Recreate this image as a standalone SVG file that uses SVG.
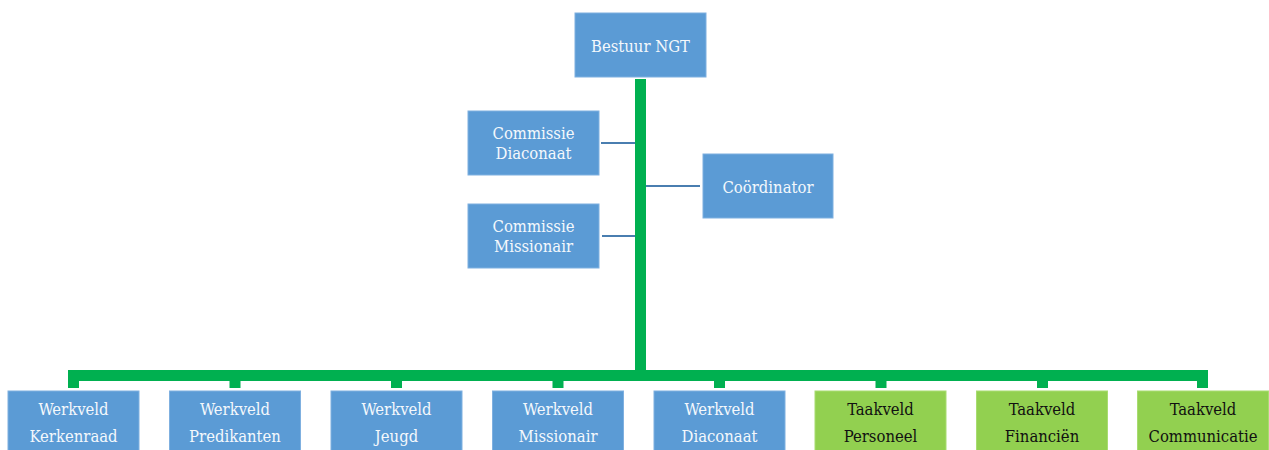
<svg xmlns="http://www.w3.org/2000/svg" width="1269" height="450" viewBox="0 0 1269 450">
<style>
.b{fill:#5b9bd5;stroke:#7fb0e0;stroke-width:1}
.g{fill:#92d050;stroke:#a8dc70;stroke-width:1}
text{font-family:"DejaVu Serif Condensed","DejaVu Serif","Liberation Serif",serif;font-stretch:condensed;font-size:16.5px;text-anchor:middle}
.tw{fill:#f4f8fc}
.tk{fill:#111}
.gl{fill:#00b050}
.bl{stroke:#4a7eb0;stroke-width:2;fill:none}
</style>
<rect width="1269" height="450" fill="#fff"/>
<g id="connectors">
<rect class="gl" x="635" y="79" width="11" height="302"/>
<rect class="gl" x="68" y="370" width="1139" height="11"/>
<rect class="gl" x="68" y="370" width="11" height="18"/>
<rect class="gl" x="229.5" y="370" width="11" height="18"/>
<rect class="gl" x="391" y="370" width="11" height="18"/>
<rect class="gl" x="552.5" y="370" width="11" height="18"/>
<rect class="gl" x="714" y="370" width="11" height="18"/>
<rect class="gl" x="875.5" y="370" width="11" height="18"/>
<rect class="gl" x="1037" y="370" width="11" height="18"/>
<rect class="gl" x="1197" y="370" width="11" height="18"/>
<line class="bl" x1="601" y1="143" x2="635" y2="143"/>
<line class="bl" x1="602" y1="236" x2="635" y2="236"/>
<line class="bl" x1="646" y1="186" x2="700" y2="186"/>
</g>
<g id="bestuur"><rect class="b" x="575" y="13" width="131" height="64"/><text class="tw" x="640.5" y="52">Bestuur NGT</text></g>
<g id="commissie-diaconaat"><rect class="b" x="468" y="111" width="131" height="64"/><text class="tw" x="533.5" y="139">Commissie</text><text class="tw" x="533.5" y="159">Diaconaat</text></g>
<g id="coordinator"><rect class="b" x="703" y="154" width="130" height="64"/><text class="tw" x="768" y="193">Coördinator</text></g>
<g id="commissie-missionair"><rect class="b" x="468" y="204" width="131" height="64"/><text class="tw" x="533.5" y="232">Commissie</text><text class="tw" x="533.5" y="252">Missionair</text></g>
<g id="werkveld-kerkenraad"><rect class="b" x="8" y="391" width="131" height="64"/><text class="tw" x="73.5" y="415">Werkveld</text><text class="tw" x="73.5" y="442">Kerkenraad</text></g>
<g id="werkveld-predikanten"><rect class="b" x="169.5" y="391" width="131" height="64"/><text class="tw" x="235" y="415">Werkveld</text><text class="tw" x="235" y="442">Predikanten</text></g>
<g id="werkveld-jeugd"><rect class="b" x="331" y="391" width="131" height="64"/><text class="tw" x="396.5" y="415">Werkveld</text><text class="tw" x="396.5" y="442">Jeugd</text></g>
<g id="werkveld-missionair"><rect class="b" x="492.5" y="391" width="131" height="64"/><text class="tw" x="558" y="415">Werkveld</text><text class="tw" x="558" y="442">Missionair</text></g>
<g id="werkveld-diaconaat"><rect class="b" x="654" y="391" width="131" height="64"/><text class="tw" x="719.5" y="415">Werkveld</text><text class="tw" x="719.5" y="442">Diaconaat</text></g>
<g id="taakveld-personeel"><rect class="g" x="815" y="391" width="131" height="64"/><text class="tk" x="880.5" y="415">Taakveld</text><text class="tk" x="880.5" y="442">Personeel</text></g>
<g id="taakveld-financien"><rect class="g" x="976.5" y="391" width="131" height="64"/><text class="tk" x="1042" y="415">Taakveld</text><text class="tk" x="1042" y="442">Financiën</text></g>
<g id="taakveld-communicatie"><rect class="g" x="1137.5" y="391" width="131" height="64"/><text class="tk" x="1203" y="415">Taakveld</text><text class="tk" x="1203" y="442">Communicatie</text></g>
</svg>
